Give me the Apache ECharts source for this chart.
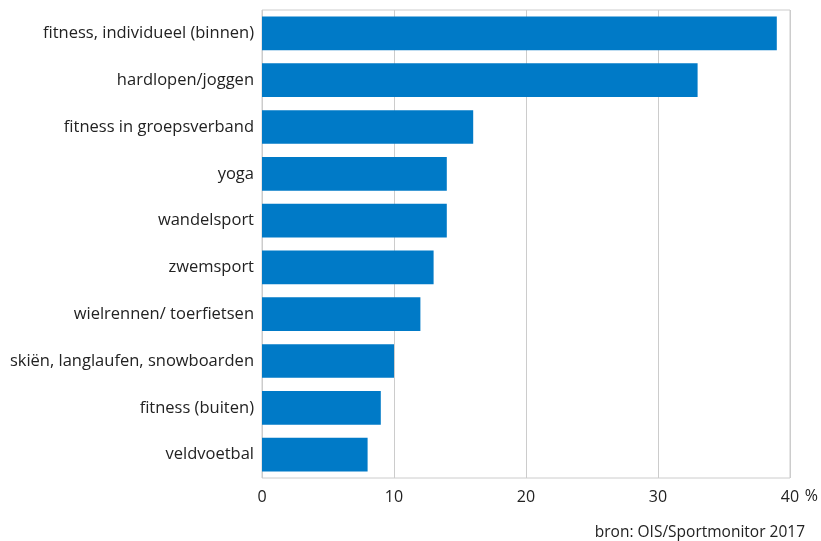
<!DOCTYPE html>
<html><head><meta charset="utf-8">
<script src="https://cdn.jsdelivr.net/npm/echarts@6/dist/echarts.min.js"></script>
<style>html,body{margin:0;padding:0;background:#fff}#c{width:821px;height:541px}</style>
</head><body><div id="c"></div>
<script>
const categories = ["fitness, individueel (binnen)","hardlopen/joggen","fitness in groepsverband","yoga","wandelsport","zwemsport","wielrennen/ toerfietsen","skiën, langlaufen, snowboarden","fitness (buiten)","veldvoetbal"];
const values = [39, 33, 16, 14, 14, 13, 12, 10, 9, 8];
const xTicks = [0, 10, 20, 30, 40];
const sourceText = "bron: OIS/Sportmonitor 2017";
const FONT = "'Open Sans', sans-serif";
const chart = echarts.init(document.getElementById('c'));
chart.setOption({
  animation: false,
  grid: {left: 262, right: 31, top: 10, bottom: 63, show: true, borderColor: '#cccccc', borderWidth: 1},
  xAxis: {type: 'value', min: xTicks[0], max: xTicks[xTicks.length-1], interval: 10,
    axisLine: {show: false}, axisTick: {show: false},
    splitLine: {show: true, lineStyle: {color: '#cccccc', width: 1}},
    axisLabel: {color: '#222', fontFamily: FONT, fontSize: 16, margin: 11}},
  yAxis: {type: 'category', data: categories, inverse: true,
    axisLine: {show: false}, axisTick: {show: false},
    axisLabel: {color: '#222', fontFamily: FONT, fontSize: 16.5, margin: 8}},
  series: [{type: 'bar', data: values, barCategoryGap: '28%', itemStyle: {color: '#007ac7'}}],
  graphic: [
    {type: 'text', right: 3, top: 488, style: {text: '%', fill: '#222', font: "16px " + FONT}},
    {type: 'text', right: 16, top: 525, style: {text: sourceText, fill: '#222', font: "15.5px " + FONT}}
  ]
});
</script></body></html>
